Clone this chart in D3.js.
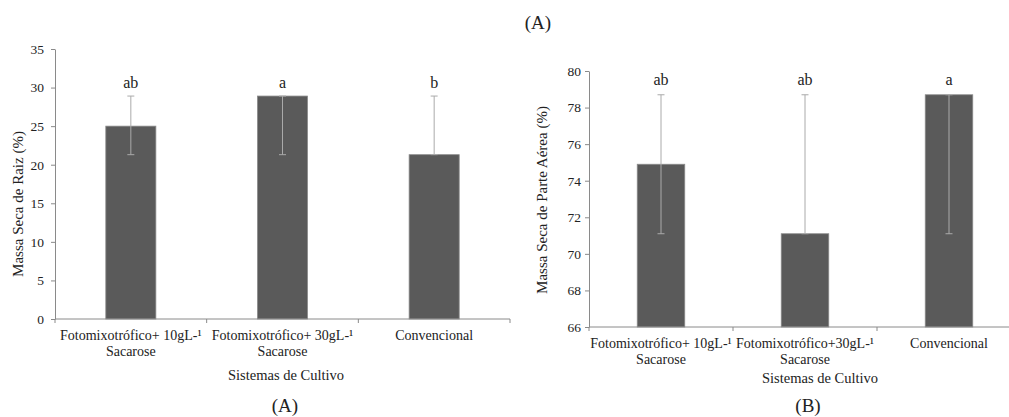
<!DOCTYPE html>
<html>
<head>
<meta charset="utf-8">
<script src="https://d3js.org/d3.v7.min.js"></script>
<style>
  body { margin: 0; background: #fff; }
  svg text { font-family: "Liberation Serif", "Times New Roman", serif; fill: #222; }
</style>
</head>
<body>
<svg width="1009" height="417"></svg>
<script>
// categories (two label lines each)
const raizLine1 = ["Fotomixotrófico+ 10gL-¹", "Fotomixotrófico+ 30gL-¹", "Convencional"];
const aereaLine1 = ["Fotomixotrófico+ 10gL-¹", "Fotomixotrófico+30gL-¹", "Convencional"];
const line2 = ["Sacarose", "Sacarose", ""];

// (A) root dry mass
const raizMean = [25.0, 28.9, 21.3];
const raizLow = [21.3, 21.3, 21.3];
const raizHigh = [28.9, 28.9, 28.9];
const raizLetters = ["ab", "a", "b"];
const raizTicks = [0, 5, 10, 15, 20, 25, 30, 35];

// (B) shoot dry mass
const aereaMean = [74.9, 71.1, 78.7];
const aereaLow = [71.1, 71.1, 71.1];
const aereaHigh = [78.7, 78.7, 78.7];
const aereaLetters = ["ab", "ab", "a"];
const aereaTicks = [66, 68, 70, 72, 74, 76, 78, 80];

var svg = d3.select("svg");

// top caption
svg.append("text")
   .attr("x", 538).attr("y", 29)
   .attr("text-anchor", "middle")
   .attr("font-size", "19px")
   .text("(A)");

function drawPanel(p) {
   var cats = p.line1.map(function(d, i) { return i; });
   var x = d3.scaleBand().domain(cats).range([p.x0, p.x1]);
   var y = d3.scaleLinear().domain(p.domain).range([p.yb, p.yt]);
   var bw = x.bandwidth() * 0.33;
   var g = svg.append("g");

   // bars
   g.selectAll(".bar").data(p.mean).enter().append("rect")
      .attr("x", function(d, i) { return x(i) + x.bandwidth() / 2 - bw / 2; })
      .attr("y", function(d) { return y(d); })
      .attr("width", bw)
      .attr("height", function(d) { return y(p.domain[0]) - y(d); })
      .attr("fill", "#5a5a5a")
      .attr("stroke", "#8a8a8a")
      .attr("stroke-width", 0.8);

   // error bars
   cats.forEach(function(i) {
      var cx = x(i) + x.bandwidth() / 2;
      g.append("line")
         .attr("x1", cx).attr("x2", cx)
         .attr("y1", y(p.low[i])).attr("y2", y(p.high[i]))
         .attr("stroke", "#aaaaaa").attr("stroke-width", 1);
      [p.low[i], p.high[i]].forEach(function(v) {
         g.append("line")
            .attr("x1", cx - 3.5).attr("x2", cx + 3.5)
            .attr("y1", y(v)).attr("y2", y(v))
            .attr("stroke", "#aaaaaa").attr("stroke-width", 1);
      });
      g.append("text")
         .attr("x", cx).attr("y", y(p.high[i]) - p.letterGap)
         .attr("text-anchor", "middle")
         .attr("font-size", "16px")
         .text(p.letters[i]);
   });

   // y axis
   var ya = g.append("g")
      .attr("transform", "translate(" + p.x0 + ",0)")
      .call(d3.axisLeft(y).tickValues(p.ticks).tickSize(4).tickPadding(p.tickPad).tickSizeOuter(0));
   ya.attr("font-family", null);
   ya.selectAll("line, path").attr("stroke", "#8a8a8a");
   ya.selectAll("text").attr("font-size", "13.5px").attr("fill", "#222");

   // x axis
   g.append("line")
      .attr("x1", p.x0).attr("x2", p.x1)
      .attr("y1", p.yb).attr("y2", p.yb)
      .attr("stroke", "#8a8a8a");
   cats.concat([cats.length]).forEach(function(i) {
      var tx = i < cats.length ? x(i) : p.x1;
      g.append("line")
         .attr("x1", tx).attr("x2", tx)
         .attr("y1", p.yb).attr("y2", p.yb + 4)
         .attr("stroke", "#8a8a8a");
   });
   cats.forEach(function(i) {
      var cx = x(i) + x.bandwidth() / 2;
      g.append("text").attr("x", cx).attr("y", p.yb + 21)
         .attr("text-anchor", "middle").attr("font-size", "14px").text(p.line1[i]);
      g.append("text").attr("x", cx).attr("y", p.yb + 37)
         .attr("text-anchor", "middle").attr("font-size", "14px").text(line2[i]);
   });

   // axis titles
   g.append("text")
      .attr("x", p.titleX).attr("y", p.titleY)
      .attr("text-anchor", "middle").attr("font-size", "14.5px")
      .text("Sistemas de Cultivo");
   g.append("text")
      .attr("transform", "translate(" + p.ylabX + "," + p.ylabY + ") rotate(-90)")
      .attr("text-anchor", "middle").attr("font-size", "15px")
      .text(p.ylabel);
   g.append("text")
      .attr("x", p.capX).attr("y", 412)
      .attr("text-anchor", "middle").attr("font-size", "19px")
      .text(p.caption);
}

drawPanel({
   line1: raizLine1, mean: raizMean, low: raizLow, high: raizHigh,
   letters: raizLetters, ticks: raizTicks, domain: [0, 35],
   x0: 55, x1: 510, yb: 319, yt: 49, tickPad: 7, letterGap: 8,
   titleX: 286, titleY: 380, capX: 285, caption: "(A)",
   ylabel: "Massa Seca de Raiz (%)", ylabX: 23, ylabY: 204
});

drawPanel({
   line1: aereaLine1, mean: aereaMean, low: aereaLow, high: aereaHigh,
   letters: aereaLetters, ticks: aereaTicks, domain: [66, 80],
   x0: 589, x1: 1021, yb: 327, yt: 71, tickPad: 4, letterGap: 10,
   titleX: 820, titleY: 383, capX: 808, caption: "(B)",
   ylabel: "Massa Seca de Parte Aérea (%)", ylabX: 547, ylabY: 200
});
</script>
</body>
</html>
